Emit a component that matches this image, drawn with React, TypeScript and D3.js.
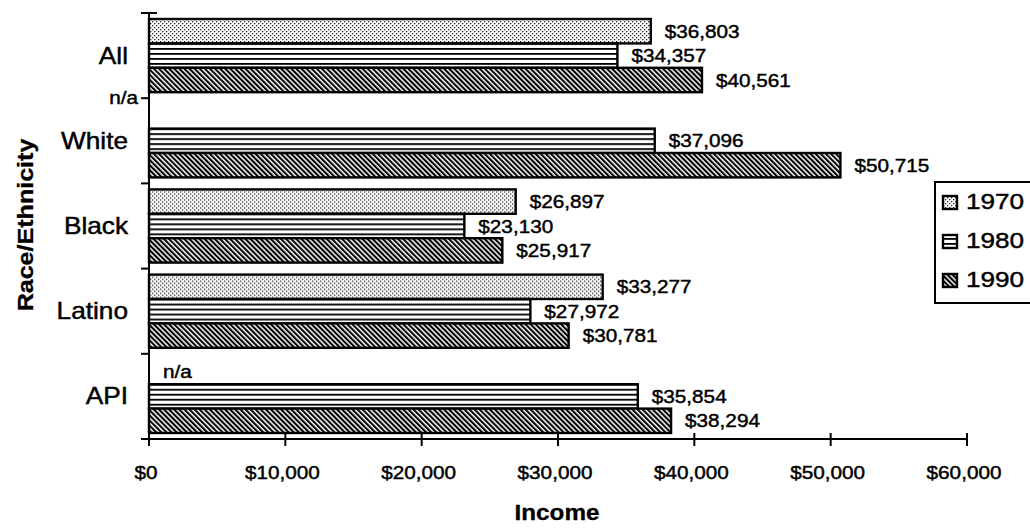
import React from 'react';
import * as d3 from 'd3';

const categories = ['All', 'White', 'Black', 'Latino', 'API'];
const years = ['1970', '1980', '1990'];
const values1970: (number | null)[] = [36803, null, 26897, 33277, null];
const values1980: (number | null)[] = [34357, 37096, 23130, 27972, 35854];
const values1990: (number | null)[] = [40561, 50715, 25917, 30781, 38294];
const xTicks = [0, 10000, 20000, 30000, 40000, 50000, 60000];
const naPlacement = ['', 'axis', '', '', 'inside'];

const seriesValues = [values1970, values1980, values1990];
const fillIds = ['p1970', 'p1980', 'p1990'];

const W = 1030;
const H = 529;
const FONT = '"Liberation Sans", Arial, Helvetica, sans-serif';

function T({ x, y, size, anchor = 'start', bold = false, sx = 1.12, rotate = 0, children }: any) {
  return (
    <text
      transform={`translate(${x},${y}) rotate(${rotate}) scale(${sx},1)`}
      fontSize={size}
      fontFamily={FONT}
      fontWeight={bold ? 'bold' : 'normal'}
      textAnchor={anchor}
      fill="#000"
      stroke="#000"
      strokeWidth={bold ? 0.3 : 0.45}
    >
      {children}
    </text>
  );
}

export default function App() {
  const x = d3.scaleLinear().domain([0, 60000]).range([149, 967]);
  const y = d3.scaleBand<string>().domain(categories).range([13, 439]).padding(0);
  const bw = y.bandwidth();
  const yi = d3.scaleBand<string>().domain(years).range([6, bw - 6]).padding(0);
  const fmt = d3.format('$,');
  const x0 = x(0);
  const axisY = y.range()[1];
  const boundaries = categories.map((c) => y(c) as number).concat([axisY]);

  return (
    <svg width={W} height={H} style={{ position: 'absolute', left: 0, top: 0, background: '#fff' }}>
      <defs>
        <pattern id="p1970" width={4} height={4} patternUnits="userSpaceOnUse">
          <rect width={4} height={4} fill="#fff" />
          <rect x={0} y={0} width={1.3} height={1.3} fill="#222" />
          <rect x={2} y={2} width={1.3} height={1.3} fill="#222" />
        </pattern>
        <pattern id="p1980" width={6} height={5} patternUnits="userSpaceOnUse">
          <rect width={6} height={5} fill="#fff" />
          <rect x={0} y={0} width={6} height={1.8} fill="#000" />
        </pattern>
        <pattern id="p1990" width={3.6} height={6} patternUnits="userSpaceOnUse" patternTransform="rotate(-45)">
          <rect width={3.6} height={6} fill="#fff" />
          <rect x={0} y={0} width={2.1} height={6} fill="#000" />
        </pattern>
      </defs>

      {/* bars */}
      {categories.map((c, ci) => (
        <g key={c} transform={`translate(0,${y(c)})`}>
          {years.map((yr, si) => {
            const v = seriesValues[si][ci];
            const by = yi(yr) as number;
            const bh = yi.bandwidth();
            if (v == null) {
              if (naPlacement[ci] === 'inside') {
                return (
                  <T key={yr} x={x0 + 14} y={by + bh / 2 + 6} size={18.5}>n/a</T>
                );
              }
              return null;
            }
            return (
              <g key={yr}>
                <rect
                  x={x0}
                  y={by}
                  width={x(v) - x0}
                  height={bh}
                  fill={`url(#${fillIds[si]})`}
                  stroke="#000"
                  strokeWidth={2.4}
                />
                <T x={x(v) + 14} y={by + bh / 2 + 6.5} size={18.5}>{fmt(v)}</T>
              </g>
            );
          })}
        </g>
      ))}

      {/* y axis */}
      <line x1={x0} x2={x0} y1={13} y2={axisY} stroke="#000" strokeWidth={2} />
      {boundaries.map((b, i) => (
        <line key={i} x1={x0 - 8} x2={i === 0 ? x0 + 8 : x0} y1={b} y2={b} stroke="#000" strokeWidth={2} />
      ))}
      {categories.map((c) => (
        <T key={c} x={128} y={(y(c) as number) + bw / 2 + 8} size={23} anchor="end" sx={1.14}>{c}</T>
      ))}
      {categories.map((c, ci) =>
        naPlacement[ci] === 'axis' ? (
          <T key={'na' + c} x={x0 - 11} y={(y(c) as number) + 6} size={18.5} anchor="end">n/a</T>
        ) : null
      )}

      {/* x axis */}
      <line x1={x0} x2={x(60000)} y1={axisY} y2={axisY} stroke="#000" strokeWidth={2} />
      {xTicks.map((t) => (
        <g key={t}>
          <line x1={x(t)} x2={x(t)} y1={axisY - 6} y2={axisY + 7} stroke="#000" strokeWidth={2} />
          <T x={x(t) - 3} y={479} size={18.5} anchor="middle">{fmt(t)}</T>
        </g>
      ))}

      {/* axis titles */}
      <T x={557} y={520} size={21.5} anchor="middle" bold sx={1.13}>Income</T>
      <T x={33} y={225} size={22} anchor="middle" bold sx={1.14} rotate={-90}>Race/Ethnicity</T>

      {/* legend */}
      <rect x={935} y={182} width={110} height={121} fill="#fff" stroke="#000" strokeWidth={2} />
      {years.map((yr, si) => (
        <g key={yr} transform={`translate(943,${209 + si * 39})`}>
          <rect x={0} y={-13} width={14} height={13} fill={`url(#${fillIds[si]})`} stroke="#000" strokeWidth={2.4} />
          <T x={23} y={0} size={22.5} sx={1.16}>{yr}</T>
        </g>
      ))}
    </svg>
  );
}
